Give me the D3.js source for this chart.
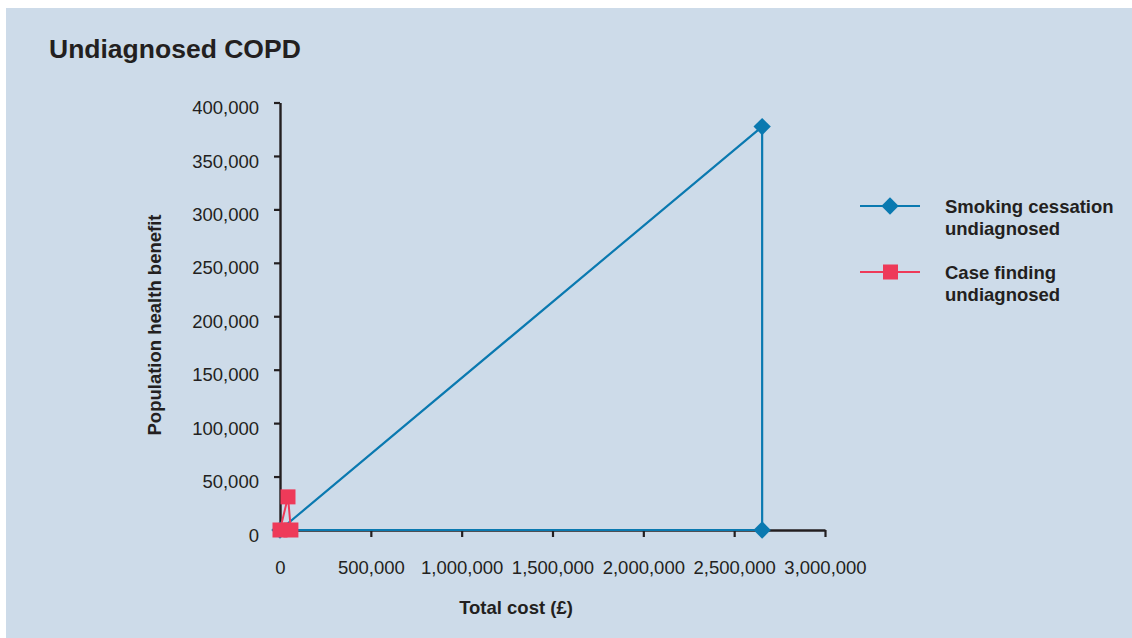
<!DOCTYPE html>
<html>
<head>
<meta charset="utf-8">
<script src="https://cdn.jsdelivr.net/npm/d3@7"></script>
<style>
  html, body { margin: 0; padding: 0; background: #ffffff; }
  svg { display: block; font-family: "Liberation Sans", Arial, sans-serif; }
</style>
</head>
<body>
<svg id="chart" width="1132" height="638"></svg>
<script>
// Cost vs benefit for undiagnosed COPD interventions
const seriesNames = ["Smoking cessation undiagnosed", "Case finding undiagnosed"];
const smokingCost = [0, 2654000, 2654000, 0];
const smokingBenefit = [0, 377500, 0, 0];
const caseCost = [0, 44000, 60000];
const caseBenefit = [0, 31000, 0];
const xTicks = [0, 500000, 1000000, 1500000, 2000000, 2500000, 3000000];
const yTicks = [0, 50000, 100000, 150000, 200000, 250000, 300000, 350000, 400000];

const blue = "#0a79b0";
const red = "#ee3a59";
const ink = "#231f20";
const font = "Liberation Sans, Arial, sans-serif";

const svg = d3.select("#chart");

svg.append("rect").attr("x", 6).attr("y", 8).attr("width", 1126).attr("height", 630)
  .attr("fill", "#cddbe9");

svg.append("text").attr("x", 49).attr("y", 58)
  .attr("font-size", 26.5).attr("font-weight", "bold").attr("fill", ink)
  .text("Undiagnosed COPD");

const x = d3.scaleLinear().domain([0, 3000000]).range([280, 825]);
const y = d3.scaleLinear().domain([0, 400000]).range([530, 102.5]);

const fmt = d3.format(",");

// y axis
const yAxis = svg.append("g").attr("transform", "translate(280,0)")
  .call(d3.axisLeft(y).tickValues(yTicks).tickFormat(fmt).tickSize(6).tickPadding(15).tickSizeOuter(0));
yAxis.select(".domain").attr("stroke", ink).attr("stroke-width", 2.4);
yAxis.selectAll(".tick line").attr("stroke", ink).attr("stroke-width", 2.2);
yAxis.selectAll(".tick text").attr("font-size", 18.5).attr("fill", ink)
  .attr("font-family", font).attr("dy", "0.6em");

// x axis
const xAxis = svg.append("g").attr("transform", "translate(0,530)")
  .call(d3.axisBottom(x).tickValues(xTicks).tickFormat(fmt).tickSize(7).tickPadding(24).tickSizeOuter(0));
xAxis.select(".domain").attr("stroke", ink).attr("stroke-width", 2.4);
xAxis.selectAll(".tick line").attr("stroke", ink).attr("stroke-width", 2.2)
  .attr("display", d => d === 0 ? "none" : null);
xAxis.selectAll(".tick text").attr("font-size", 18.5).attr("fill", ink)
  .attr("font-family", font);

// axis titles
svg.append("text").attr("x", 516).attr("y", 614).attr("text-anchor", "middle")
  .attr("font-size", 18.5).attr("font-weight", "bold").attr("fill", ink)
  .text("Total cost (£)");
svg.append("text").attr("transform", "translate(161,325) rotate(-90)")
  .attr("text-anchor", "middle")
  .attr("font-size", 18.5).attr("font-weight", "bold").attr("fill", ink)
  .text("Population health benefit");

const line = d3.line().x(d => x(d[0])).y(d => y(d[1]));

const smoking = smokingCost.map((c, i) => [c, smokingBenefit[i]]);
const cases = caseCost.map((c, i) => [c, caseBenefit[i]]);

// diamonds drawn as squares turned by 45 degrees
const diamond = d3.symbol(d3.symbolSquare, 150)();

svg.append("path").datum(smoking).attr("d", line)
  .attr("fill", "none").attr("stroke", blue).attr("stroke-width", 2.2);
svg.selectAll(".dia").data(smoking.slice(0, 3)).enter().append("path")
  .attr("d", diamond)
  .attr("transform", d => `translate(${x(d[0])},${y(d[1])}) rotate(45)`)
  .attr("fill", blue);

svg.append("path").datum(cases).attr("d", line)
  .attr("fill", "none").attr("stroke", red).attr("stroke-width", 2);
svg.selectAll(".sq").data(cases).enter().append("rect")
  .attr("x", d => x(d[0]) - 7.5).attr("y", d => y(d[1]) - 7.5)
  .attr("width", 15).attr("height", 15).attr("fill", red);

// legend
const legend = [
  { name: seriesNames[0], color: blue, shape: "diamond", y: 206 },
  { name: seriesNames[1], color: red, shape: "square", y: 272 }
];
legend.forEach(l => {
  svg.append("line").attr("x1", 860).attr("x2", 920).attr("y1", l.y).attr("y2", l.y)
    .attr("stroke", l.color).attr("stroke-width", 2.2);
  if (l.shape === "diamond") {
    svg.append("path").attr("d", diamond)
      .attr("transform", `translate(890,${l.y}) rotate(45)`).attr("fill", l.color);
  } else {
    svg.append("rect").attr("x", 883).attr("y", l.y - 7.5).attr("width", 15).attr("height", 15)
      .attr("fill", l.color);
  }
  const words = l.name.split(" ");
  const t = svg.append("text").attr("font-size", 18.5).attr("font-weight", "bold").attr("fill", ink);
  t.append("tspan").attr("x", 945).attr("y", l.y + 7).text(words.slice(0, -1).join(" "));
  t.append("tspan").attr("x", 945).attr("y", l.y + 29).text(words[words.length - 1]);
});
</script>
</body>
</html>
